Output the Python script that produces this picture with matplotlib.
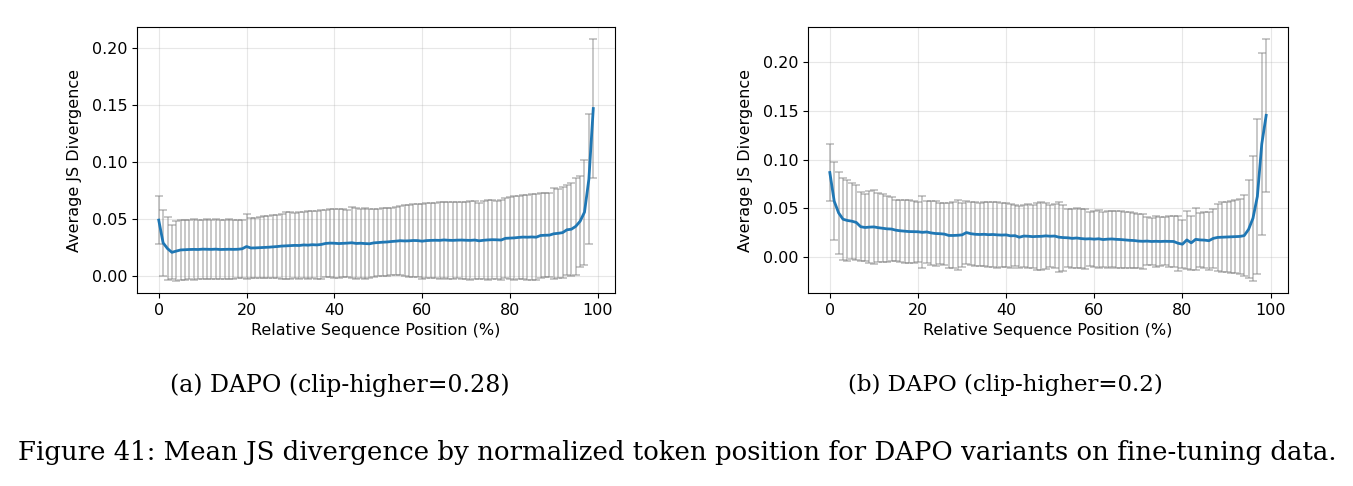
import matplotlib
matplotlib.use("Agg")
import matplotlib.pyplot as plt
import numpy as np

# ---- data ----
positions = list(range(100))

left_mean = [
    0.0490, 0.0290, 0.0240, 0.0207, 0.0218, 0.0228, 0.0230, 0.0232, 0.0233, 0.0232,
    0.0235, 0.0234, 0.0233, 0.0235, 0.0232, 0.0233, 0.0234, 0.0233, 0.0234, 0.0238,
    0.0258, 0.0245, 0.0246, 0.0248, 0.0250, 0.0252, 0.0255, 0.0258, 0.0262, 0.0264,
    0.0266, 0.0268, 0.0267, 0.0272, 0.0270, 0.0274, 0.0272, 0.0276, 0.0285, 0.0288,
    0.0287, 0.0284, 0.0286, 0.0288, 0.0291, 0.0285, 0.0287, 0.0284, 0.0282, 0.0290,
    0.0293, 0.0296, 0.0298, 0.0302, 0.0305, 0.0309, 0.0307, 0.0308, 0.0311, 0.0310,
    0.0305, 0.0310, 0.0312, 0.0313, 0.0312, 0.0316, 0.0313, 0.0312, 0.0314, 0.0315,
    0.0313, 0.0312, 0.0315, 0.0308, 0.0313, 0.0316, 0.0318, 0.0317, 0.0315, 0.0330,
    0.0332, 0.0334, 0.0338, 0.0341, 0.0340, 0.0342, 0.0340, 0.0355, 0.0357, 0.0358,
    0.0370, 0.0374, 0.0380, 0.0405, 0.0410, 0.0435, 0.0480, 0.0560, 0.0850, 0.1470,
]
left_std = [
    0.0210, 0.0290, 0.0275, 0.0238, 0.0262, 0.0262, 0.0265, 0.0260, 0.0268, 0.0262,
    0.0260, 0.0263, 0.0258, 0.0262, 0.0255, 0.0258, 0.0262, 0.0259, 0.0256, 0.0254,
    0.0282, 0.0262, 0.0266, 0.0270, 0.0272, 0.0270, 0.0276, 0.0280, 0.0285, 0.0294,
    0.0292, 0.0288, 0.0296, 0.0292, 0.0296, 0.0293, 0.0298, 0.0300, 0.0298, 0.0302,
    0.0304, 0.0302, 0.0298, 0.0295, 0.0312, 0.0312, 0.0302, 0.0315, 0.0302, 0.0298,
    0.0296, 0.0300, 0.0298, 0.0296, 0.0300, 0.0302, 0.0312, 0.0316, 0.0322, 0.0318,
    0.0330, 0.0326, 0.0332, 0.0330, 0.0336, 0.0334, 0.0338, 0.0336, 0.0332, 0.0338,
    0.0340, 0.0345, 0.0342, 0.0336, 0.0344, 0.0350, 0.0348, 0.0344, 0.0354, 0.0352,
    0.0360, 0.0368, 0.0362, 0.0370, 0.0372, 0.0375, 0.0380, 0.0375, 0.0370, 0.0372,
    0.0400, 0.0390, 0.0400, 0.0395, 0.0410, 0.0425, 0.0400, 0.0460, 0.0570, 0.0610,
]

right_mean = [
    0.0866, 0.0570, 0.0450, 0.0385, 0.0372, 0.0365, 0.0352, 0.0308, 0.0300, 0.0304,
    0.0306, 0.0298, 0.0292, 0.0286, 0.0284, 0.0272, 0.0266, 0.0262, 0.0258, 0.0257,
    0.0256, 0.0250, 0.0254, 0.0244, 0.0238, 0.0236, 0.0232, 0.0218, 0.0218, 0.0220,
    0.0224, 0.0248, 0.0236, 0.0230, 0.0228, 0.0230, 0.0226, 0.0228, 0.0224, 0.0222,
    0.0224, 0.0214, 0.0216, 0.0200, 0.0212, 0.0210, 0.0206, 0.0208, 0.0209, 0.0214,
    0.0210, 0.0212, 0.0200, 0.0196, 0.0194, 0.0188, 0.0192, 0.0186, 0.0182, 0.0184,
    0.0180, 0.0184, 0.0176, 0.0180, 0.0182, 0.0178, 0.0176, 0.0172, 0.0168, 0.0166,
    0.0160, 0.0158, 0.0160, 0.0156, 0.0158, 0.0156, 0.0158, 0.0157, 0.0156, 0.0138,
    0.0128, 0.0172, 0.0142, 0.0178, 0.0172, 0.0170, 0.0164, 0.0188, 0.0198, 0.0200,
    0.0202, 0.0204, 0.0206, 0.0208, 0.0216, 0.0280, 0.0395, 0.0620, 0.1160, 0.1455,
]
right_std = [
    0.0290, 0.0400, 0.0420, 0.0420, 0.0420, 0.0390, 0.0390, 0.0355, 0.0345, 0.0370,
    0.0380, 0.0355, 0.0350, 0.0340, 0.0330, 0.0315, 0.0322, 0.0325, 0.0328, 0.0320,
    0.0310, 0.0370, 0.0320, 0.0330, 0.0335, 0.0315, 0.0320, 0.0330, 0.0340, 0.0360,
    0.0330, 0.0320, 0.0325, 0.0330, 0.0325, 0.0330, 0.0335, 0.0330, 0.0340, 0.0330,
    0.0330, 0.0330, 0.0315, 0.0320, 0.0320, 0.0330, 0.0325, 0.0345, 0.0350, 0.0340,
    0.0320, 0.0330, 0.0360, 0.0340, 0.0300, 0.0305, 0.0310, 0.0300, 0.0305, 0.0280,
    0.0285, 0.0300, 0.0285, 0.0295, 0.0285, 0.0290, 0.0295, 0.0290, 0.0290, 0.0280,
    0.0280, 0.0285, 0.0245, 0.0245, 0.0265, 0.0250, 0.0245, 0.0265, 0.0265, 0.0285,
    0.0250, 0.0300, 0.0280, 0.0320, 0.0280, 0.0290, 0.0300, 0.0300, 0.0345, 0.0360,
    0.0365, 0.0370, 0.0375, 0.0385, 0.0420, 0.0505, 0.0645, 0.0800, 0.0935, 0.0785,
]

xticks = [0, 20, 40, 60, 80, 100]
yticks_left = [0.00, 0.05, 0.10, 0.15, 0.20]
yticks_right = [0.00, 0.05, 0.10, 0.15, 0.20]
xlabel = "Relative Sequence Position (%)"
ylabel = "Average JS Divergence"
subcaptions = ["(a) DAPO (clip-higher=0.28)", "(b) DAPO (clip-higher=0.2)"]
caption = "Figure 41: Mean JS divergence by normalized token position for DAPO variants on fine-tuning data."

# ---- figure ----
W, H = 1353, 486
fig = plt.figure(figsize=(W / 100, H / 100), dpi=100)

boxes = [
    (137 / W, 1 - 293 / H, (615 - 137) / W, (293 - 27) / H),
    (808 / W, 1 - 293 / H, (1288 - 808) / W, (293 - 27) / H),
]
panels = [(left_mean, left_std, yticks_left), (right_mean, right_std, yticks_right)]

for box, (mean, std, yt) in zip(boxes, panels):
    ax = fig.add_axes(box)
    ax.errorbar(positions, mean, yerr=std, fmt="none", ecolor="gray",
                alpha=0.5, capsize=3, elinewidth=1.2, capthick=1.2, zorder=2)
    ax.plot(positions, mean, color="#1f77b4", linewidth=2, zorder=3)
    ax.set_xticks(xticks)
    ax.set_yticks(yt)
    ax.set_yticklabels([f"{v:.2f}" for v in yt])
    ax.tick_params(labelsize=11.5)
    ax.set_xlabel(xlabel, fontsize=11.5)
    ax.set_ylabel(ylabel, fontsize=11.5, labelpad=7)
    ax.grid(True, alpha=0.3)
    ax.set_axisbelow(True)

fig.text(340 / W, 1 - 385 / H, subcaptions[0], ha="center", va="center",
         fontsize=17, family="DejaVu Serif")
fig.text(1005 / W, 1 - 385 / H, subcaptions[1], ha="center", va="center",
         fontsize=16.5, family="DejaVu Serif")
fig.text(677 / W, 1 - 452 / H, caption, ha="center", va="center",
         fontsize=18.7, family="DejaVu Serif")

fig.savefig("out.png", dpi=100)
